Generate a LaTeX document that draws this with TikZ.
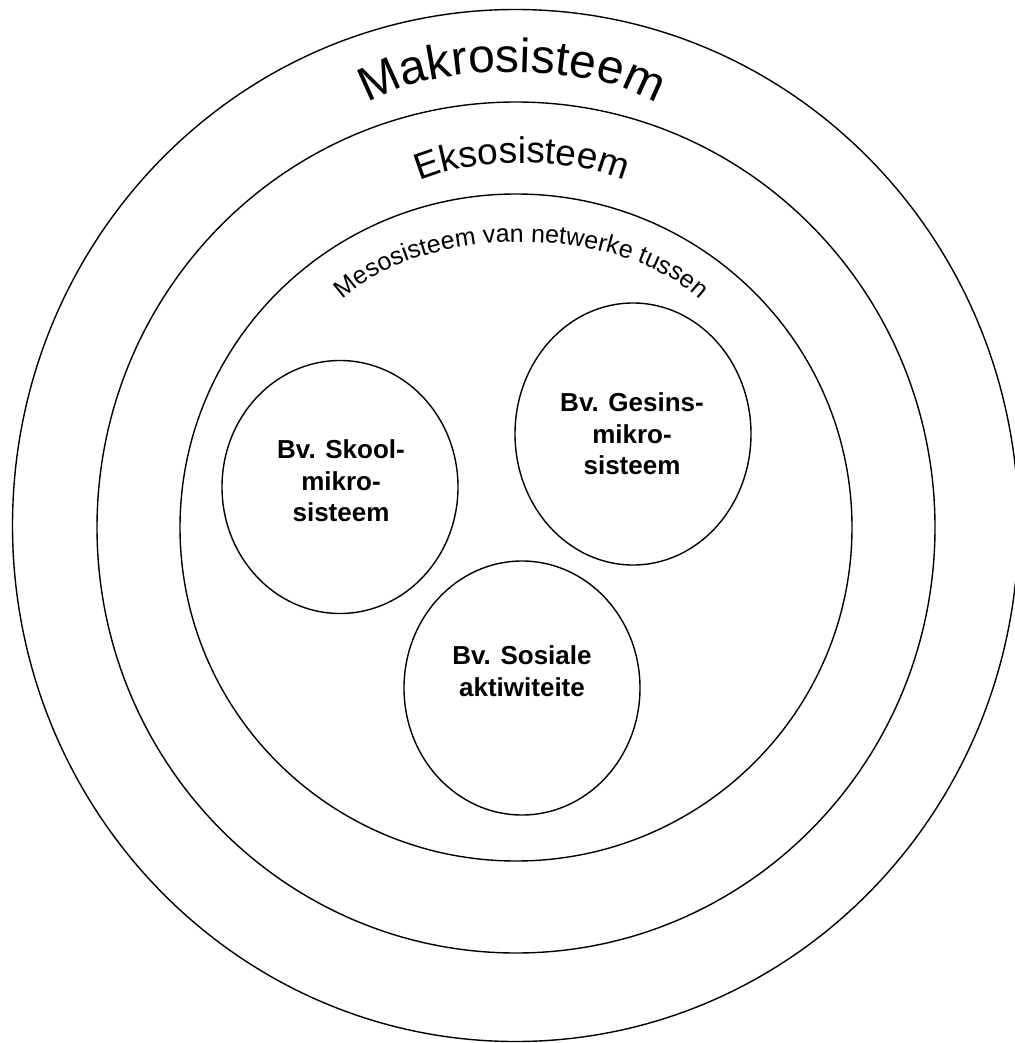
\documentclass[tikz,border=0pt]{standalone}
\usepackage{fontspec}
\setmainfont{Liberation Sans}
\usetikzlibrary{shapes.geometric,decorations.text}
\begin{document}
\begin{tikzpicture}[x=1pt,y=-1pt,
  ring/.style={draw, ellipse, line width=1.4pt, inner sep=0pt},
  lbl/.style={align=center, font=\bfseries\fontsize{26}{31.5}\selectfont, inner sep=0pt}]
\useasboundingbox (0,0) rectangle (1014,1043);
% concentric systems
\node[ring, minimum width=1006pt, minimum height=1032pt] (makro) at (515.5,525.5) {};
\node[ring, minimum width=838pt, minimum height=851pt] (ekso) at (516,527.5) {};
\node[ring, minimum width=672pt, minimum height=667pt] (meso) at (516,527.5) {};
% micro systems
\node[ring, minimum width=236pt, minimum height=253pt] (skool) at (340,487) {};
\node[ring, minimum width=236pt, minimum height=262pt] (gesin) at (633,434) {};
\node[ring, minimum width=236pt, minimum height=254pt] (sosiaal) at (522,688) {};
\node[lbl] (skooltxt) at (341,481) {Bv. Skool-\\mikro-\\sisteem};
\node[lbl] (gesintxt) at (632,434) {Bv. Gesins-\\mikro-\\sisteem};
\node[lbl] (sosiaaltxt) at (522,671) {Bv. Sosiale\\aktiwiteite};
% curved titles
\path[decorate, decoration={text along path, text align=center,
  text={|\fontsize{48}{48}\selectfont|Makrosisteem}}]
  (347.6,128.6) arc[start angle=175, end angle=5, x radius=165pt, y radius=62pt];
\path[decorate, decoration={text along path, text align=center,
  text={|\fontsize{37}{37}\selectfont|Eksosisteem}}]
  (392.5,205) arc[start angle=175, end angle=5, x radius=130pt, y radius=46pt];
\path[decorate, decoration={text along path, text align=center,
  text={|\fontsize{25}{25}\selectfont|Mesosisteem van netwerke tussen}}]
  (313.8,349.7) arc[start angle=175, end angle=5, x radius=208pt, y radius=118pt];
\end{tikzpicture}
\end{document}
